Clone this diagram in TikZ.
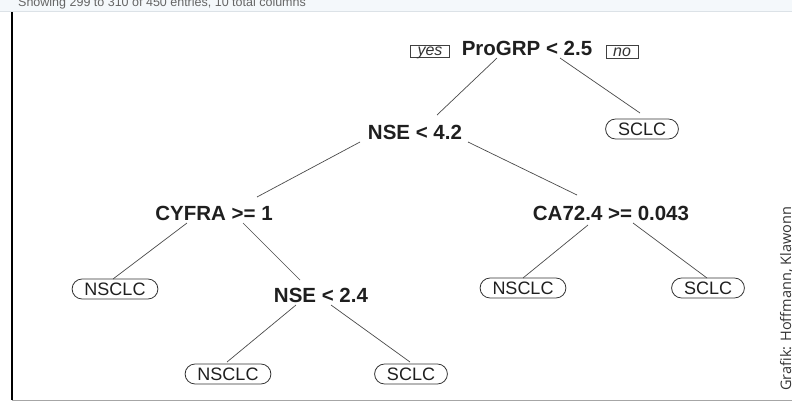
\documentclass[tikz,border=0pt]{standalone}
\usepackage{fontspec}
\setmainfont{Liberation Sans}
\newfontfamily\creditfont{Open Sans}
\usetikzlibrary{calc,shapes.misc}

\definecolor{treeline}{HTML}{4A4A4A}
\definecolor{stripbg}{HTML}{F4F8FB}
\definecolor{stripline}{HTML}{DCE2E7}

\begin{document}
\begin{tikzpicture}[x=1pt,y=-1pt,
    split/.style={font=\fontsize{20.5}{24}\selectfont\bfseries, text=black!88, inner sep=0pt},
    leaf/.style={rounded rectangle, draw=black!80, line width=0.8pt, font=\fontsize{18}{21}\selectfont, text=black!88, text height=13pt, text depth=0pt, inner xsep=10pt, inner ysep=3.5pt},
    tag/.style={draw=black!75, line width=0.7pt, font=\fontsize{16}{18}\selectfont\itshape, text=black!80, text height=8.5pt, text depth=0pt, inner xsep=7pt, inner ysep=2pt},
    branch/.style={treeline, line width=0.7pt}]
    \useasboundingbox (0,0) rectangle (792,402);

    % table header strip, cut off at the top
    \fill[stripbg] (0,0) rectangle (792,11);
    \begin{scope}
        \clip (0,0) rectangle (792,11);
        \node[anchor=base west, inner sep=0pt, text=black!60, font=\fontsize{12.5}{14}\selectfont] (header) at (18,6.5) {Showing 299 to 310 of 450 entries, 10 total columns};
    \end{scope}
    \draw[stripline] (0,11.5) -- (792,11.5);
    \draw[line width=1.5pt] (12,12) -- (12,400);
    \draw[black!35, line width=1pt] (12,400.5) -- (792,400.5);

    % splits
    \node[split] (prog) at (527,48.5) {ProGRP < 2.5};
    \node[tag] (yes) at (430,51.5) {yes};
    \node[tag] (no) at (622,52) {no};
    \node[split] (nseA) at (415,132) {NSE < 4.2};
    \node[split] (cyfra) at (214,213) {CYFRA >= 1};
    \node[split] (ca) at (611,213) {CA72.4 >= 0.043};
    \node[split] (nseB) at (321,295) {NSE < 2.4};

    % leaves
    \node[leaf] (sclcA) at (642,129) {SCLC};
    \node[leaf] (nsclcA) at (115,289) {NSCLC};
    \node[leaf] (nsclcB) at (523,288) {NSCLC};
    \node[leaf] (sclcB) at (708,288) {SCLC};
    \node[leaf] (nsclcC) at (228,374) {NSCLC};
    \node[leaf] (sclcC) at (411,374) {SCLC};

    % branches
    \draw[branch] ($(prog)+(-30,9.5)$) -- ($(nseA)+(22,-17)$);
    \draw[branch] ($(prog)+(33,9.5)$) -- ($(sclcA)+(-2,-16)$);
    \draw[branch] ($(nseA)+(-55,10)$) -- ($(cyfra)+(43,-16)$);
    \draw[branch] ($(nseA)+(53,10)$) -- ($(ca)+(-34,-18)$);
    \draw[branch] ($(cyfra)+(-27,10)$) -- ($(nsclcA)+(-2,-10)$);
    \draw[branch] ($(cyfra)+(29,10)$) -- ($(nseB)+(-21,-15)$);
    \draw[branch] ($(ca)+(-23,12)$) -- ($(nsclcB)+(0,-10)$);
    \draw[branch] ($(ca)+(22,10)$) -- ($(sclcB)+(-1,-10)$);
    \draw[branch] ($(nseB)+(-25,10)$) -- ($(nsclcC)+(-1,-12)$);
    \draw[branch] ($(nseB)+(10,10)$) -- ($(sclcC)+(-1,-12)$);

    \node[rotate=90, anchor=base west, inner sep=0pt, text=black!80, font=\creditfont\fontsize{14.5}{17}\selectfont] (credit) at (791,391) {Grafik: Hoffmann, Klawonn};
\end{tikzpicture}
\end{document}
